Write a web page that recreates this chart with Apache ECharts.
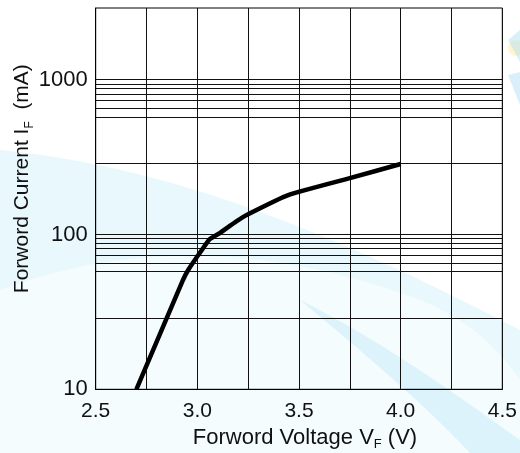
<!DOCTYPE html>
<html>
<head>
<meta charset="utf-8">
<script src="https://cdn.jsdelivr.net/npm/echarts@6/dist/echarts.min.js"></script>
<style>
html,body{margin:0;padding:0;background:#fff;}
#chart{width:520px;height:453px;}
</style>
</head>
<body>
<div id="chart"></div>
<script>
// Forward voltage (V) vs forward current (mA)
var voltage = [2.70, 2.93, 2.955, 3.015, 3.06, 3.11, 3.19, 3.245, 3.45, 3.75, 4.00];
var current = [10, 51, 59, 77, 93, 102, 121, 134, 180, 231, 285];
var xTickLabels = ['2.5', '3.0', '3.5', '4.0', '4.5'];
var yTickLabels = ['10', '100', '1000'];
var hGridValues = [28.8, 57.5, 65, 73.5, 81, 88, 94, 100, 288, 575, 652, 735, 808, 879, 938, 1000];

var chart = echarts.init(document.getElementById('chart'));
var font = 'Liberation Sans, Arial, sans-serif';
var points = voltage.map(function (v, i) { return [v, current[i]]; });

// decorative background swooshes (sampled cubic bezier edges)
function bez(p0, p1, p2, p3, n) {
  var out = [];
  for (var i = 0; i <= n; i++) {
    var t = i / n, u = 1 - t;
    out.push([
      u*u*u*p0[0] + 3*u*u*t*p1[0] + 3*u*t*t*p2[0] + t*t*t*p3[0],
      u*u*u*p0[1] + 3*u*u*t*p1[1] + 3*u*t*t*p2[1] + t*t*t*p3[1]
    ]);
  }
  return out;
}
var band1 = bez([0,150],[150,165],[300,215],[520,330],30).concat([[520,453],[0,453]]);
var band2 = bez([0,290],[120,245],[260,240],[420,300],30)
  .concat(bez([420,300],[470,320],[500,350],[520,380],10)).concat([[520,453],[0,453]]);
var band3 = bez([300,300],[380,340],[450,390],[520,440],20).concat([[520,453],[470,453]])
  .concat(bez([470,453],[420,400],[360,350],[300,300],20));

var option = {
  animation: false,
  backgroundColor: 'transparent',
  graphic: [
    { type: 'polygon', z: -10, silent: true, shape: { points: band1 },
      style: { fill: 'rgba(205,240,250,0.45)' } },
    { type: 'polygon', z: -9, silent: true, shape: { points: band2 },
      style: { fill: 'rgba(255,255,255,0.5)' } },
    { type: 'polygon', z: -8, silent: true, shape: { points: band3 },
      style: { fill: 'rgba(185,230,248,0.4)' } },
    { type: 'circle', z: -8, silent: true, shape: { cx: 516, cy: 48, r: 8 },
      style: { fill: 'rgba(255,235,150,0.45)' } },
    { type: 'polygon', z: -8, silent: true, shape: { points: [[508,40],[520,62],[520,30]] },
      style: { fill: 'rgba(170,222,245,0.45)' } },
    { type: 'polygon', z: -8, silent: true, shape: { points: [[508,75],[520,105],[520,72]] },
      style: { fill: 'rgba(170,222,245,0.45)' } }
  ],
  grid: { left: 95.7, right: 17.7, top: 8, bottom: 63.7, show: true,
          containLabel: false, outerBoundsMode: 'none',
          borderColor: '#000', borderWidth: 1, backgroundColor: 'transparent' },
  xAxis: {
    type: 'value', min: 2.5, max: 4.5, interval: 0.25,
    name: '{n|Forword Voltage V}{s|F}{n| (V)}',
    nameLocation: 'middle', nameGap: 35,
    nameTextStyle: { padding: [0, 0, 0, 12], rich: {
      n: { fontFamily: font, fontSize: 22, color: '#111' },
      s: { fontFamily: font, fontSize: 13, color: '#111', padding: [14, 0, 0, 0] } } },
    axisLine: { show: true, lineStyle: { color: '#000', width: 1 } },
    axisTick: { show: false },
    axisLabel: { margin: 11, fontFamily: font, fontSize: 21, color: '#111',
      formatter: function (v) {
        var s = v.toFixed(1);
        return (Math.abs(v * 2 - Math.round(v * 2)) < 1e-6 && xTickLabels.indexOf(s) >= 0) ? s : '';
      } },
    splitLine: { show: true, lineStyle: { color: '#111', width: 1 } }
  },
  yAxis: {
    type: 'log', logBase: 10, min: 10, max: 2900,
    name: '{n|Forword Current I}{s|F}{n|  (mA)}',
    nameLocation: 'middle', nameGap: 60, nameRotate: 90, nameMoveOverlap: false,
    nameTextStyle: { padding: [0, 0, 0, 40], rich: {
      n: { fontFamily: font, fontSize: 21, color: '#111' },
      s: { fontFamily: font, fontSize: 12, color: '#111', padding: [14, 0, 0, 0] } } },
    axisLine: { show: true, lineStyle: { color: '#000', width: 1 } },
    axisTick: { show: false },
    axisLabel: { margin: 8, fontFamily: font, fontSize: 22, color: '#111',
      formatter: function (v) {
        var s = String(Math.round(v));
        return yTickLabels.indexOf(s) >= 0 ? s : '';
      } },
    splitLine: { show: false }
  },
  series: [
    {
      type: 'line', data: [], silent: true,
      markLine: {
        silent: true, symbol: ['none', 'none'], label: { show: false },
        lineStyle: { color: '#111', width: 1, type: 'solid' },
        data: hGridValues.map(function (v) { return { yAxis: v }; })
      }
    },
    {
      type: 'line', data: points, showSymbol: false, smooth: 0.15,
      lineStyle: { color: '#000', width: 4.5 }, z: 5
    }
  ]
};
chart.setOption(option);
</script>
</body>
</html>
